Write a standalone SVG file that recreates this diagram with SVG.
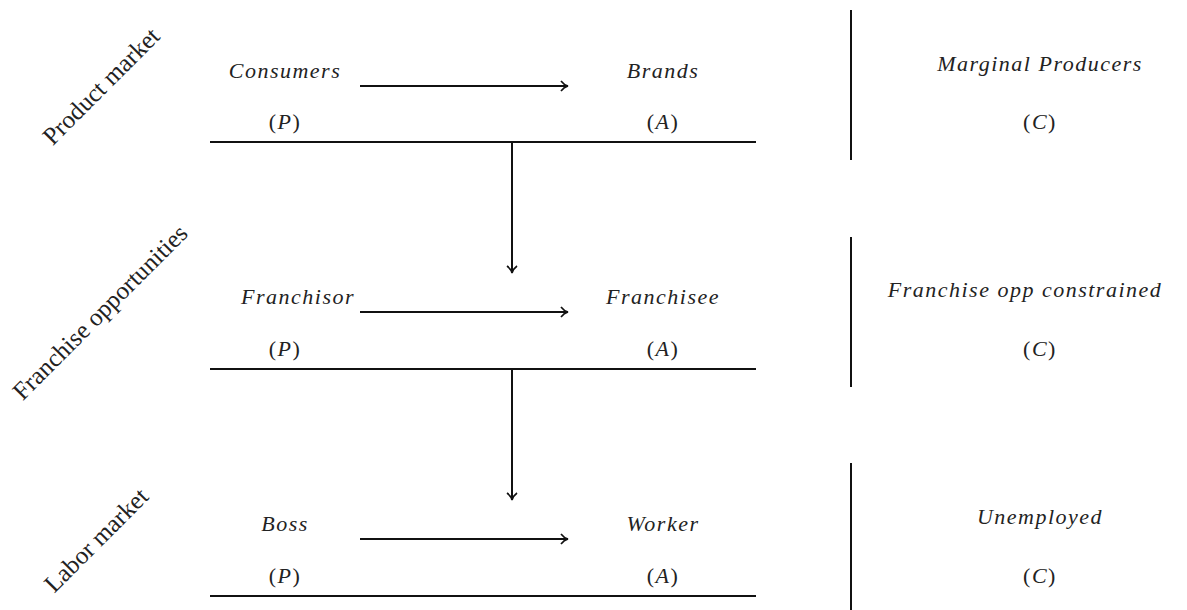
<svg xmlns="http://www.w3.org/2000/svg" width="1187" height="610" viewBox="0 0 1187 610">
<style>
.m{font-family:"Liberation Serif",serif;font-style:italic;font-size:22px;fill:#222;text-anchor:middle;letter-spacing:1.5px}
.u{font-style:normal}
.r{font-family:"Liberation Serif",serif;font-size:25px;fill:#222;text-anchor:middle}
.ln{stroke:#111;stroke-width:2;fill:none}
</style>
<defs>
<marker id="ah" markerWidth="14" markerHeight="14" refX="10" refY="7" orient="auto" markerUnits="userSpaceOnUse">
<path d="M3,2 Q6,6 10,7 Q6,8 3,12" fill="none" stroke="#111" stroke-width="1.6"/>
</marker>
</defs>
<rect width="1187" height="610" fill="#fff"/>
<g id="labels">
<text class="r" transform="translate(107,92) rotate(-45)">Product market</text>
<text class="r" transform="translate(106,318) rotate(-45)">Franchise opportunities</text>
<text class="r" transform="translate(102,546) rotate(-45)">Labor market</text>
</g>
<g id="row1">
<text class="m" x="285" y="78">Consumers</text>
<text class="m" x="285" y="129"><tspan class="u">(</tspan>P<tspan class="u">)</tspan></text>
<text class="m" x="663" y="78">Brands</text>
<text class="m" x="663" y="129"><tspan class="u">(</tspan>A<tspan class="u">)</tspan></text>
<text class="m" x="1040" y="71">Marginal Producers</text>
<text class="m" x="1040" y="129"><tspan class="u">(</tspan>C<tspan class="u">)</tspan></text>
</g>
<g id="row2">
<text class="m" x="298" y="304">Franchisor</text>
<text class="m" x="285" y="356"><tspan class="u">(</tspan>P<tspan class="u">)</tspan></text>
<text class="m" x="663" y="304">Franchisee</text>
<text class="m" x="663" y="356"><tspan class="u">(</tspan>A<tspan class="u">)</tspan></text>
<text class="m" x="1025" y="297">Franchise opp constrained</text>
<text class="m" x="1040" y="356"><tspan class="u">(</tspan>C<tspan class="u">)</tspan></text>
</g>
<g id="row3">
<text class="m" x="285" y="531">Boss</text>
<text class="m" x="285" y="583"><tspan class="u">(</tspan>P<tspan class="u">)</tspan></text>
<text class="m" x="663" y="531">Worker</text>
<text class="m" x="663" y="583"><tspan class="u">(</tspan>A<tspan class="u">)</tspan></text>
<text class="m" x="1040" y="524">Unemployed</text>
<text class="m" x="1040" y="583"><tspan class="u">(</tspan>C<tspan class="u">)</tspan></text>
</g>
<g id="connectors">
<line class="ln" x1="210" y1="142" x2="756" y2="142"/>
<line class="ln" x1="210" y1="369" x2="756" y2="369"/>
<line class="ln" x1="210" y1="596" x2="756" y2="596"/>
<line class="ln" x1="851" y1="10" x2="851" y2="160"/>
<line class="ln" x1="851" y1="237" x2="851" y2="387"/>
<line class="ln" x1="851" y1="463" x2="851" y2="610"/>
<line class="ln" x1="360" y1="86" x2="568" y2="86" marker-end="url(#ah)"/>
<line class="ln" x1="360" y1="312" x2="568" y2="312" marker-end="url(#ah)"/>
<line class="ln" x1="360" y1="539" x2="568" y2="539" marker-end="url(#ah)"/>
<line class="ln" x1="512" y1="142" x2="512" y2="273" marker-end="url(#ah)"/>
<line class="ln" x1="512" y1="369" x2="512" y2="500" marker-end="url(#ah)"/>
</g>
</svg>
